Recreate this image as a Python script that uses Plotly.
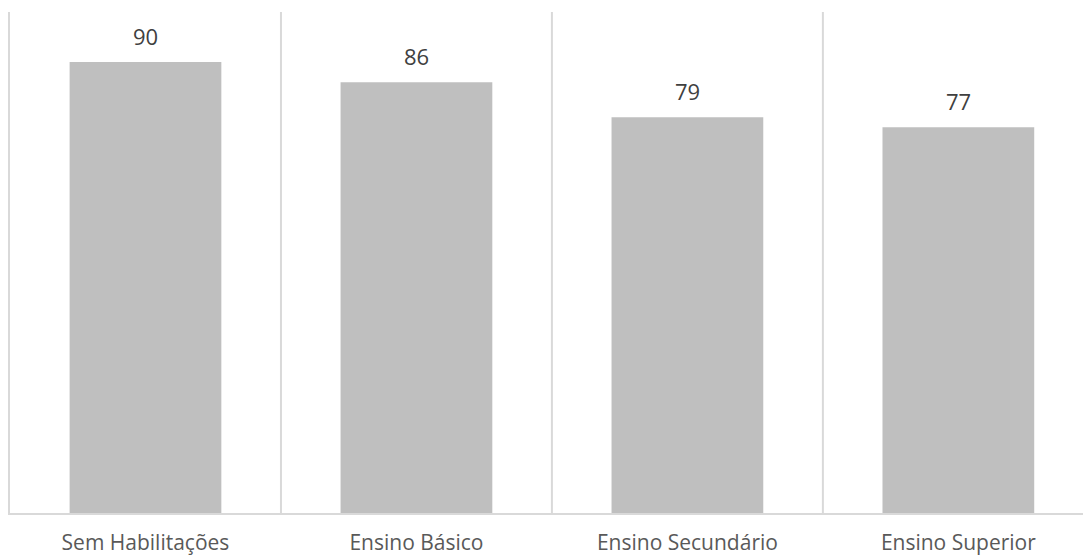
import plotly.graph_objects as go

categories = ["Sem Habilitações", "Ensino Básico", "Ensino Secundário", "Ensino Superior"]
values = [90, 86, 79, 77]

fig = go.Figure()
fig.add_trace(go.Bar(
    x=list(range(len(categories))), y=values,
    marker=dict(color="#BFBFBF", line=dict(width=0)),
    width=0.56, hoverinfo="skip",
))

for i, v in enumerate(values):
    fig.add_annotation(x=i, y=v, text=str(v), showarrow=False, yanchor="bottom",
                       yshift=9, font=dict(family="Open Sans", size=22, color="#404040"))

# category separators
for s in [0.5, 1.5, 2.5]:
    fig.add_shape(type="line", x0=s, x1=s, y0=0, y1=100, xref="x", yref="y",
                  line=dict(color="#D9D9D9", width=2), layer="below")

fig.update_layout(
    width=1083, height=557,
    margin=dict(l=10, r=0, t=12, b=44),
    paper_bgcolor="white", plot_bgcolor="white",
    showlegend=False,
    font=dict(family="Open Sans", size=21, color="#595959"),
    xaxis=dict(range=[-0.5, 3.46], tickmode="array", tickvals=list(range(len(categories))),
               ticktext=categories, showgrid=False, zeroline=False,
               showline=True, linecolor="#D9D9D9", linewidth=2, ticks="",
               ticklabelstandoff=10,
               tickfont=dict(family="Open Sans", size=21, color="#595959")),
    yaxis=dict(range=[0, 100], showgrid=False, zeroline=False, showticklabels=False,
               showline=True, linecolor="#D9D9D9", linewidth=2, ticks=""),
)

fig.write_html("out.html")
